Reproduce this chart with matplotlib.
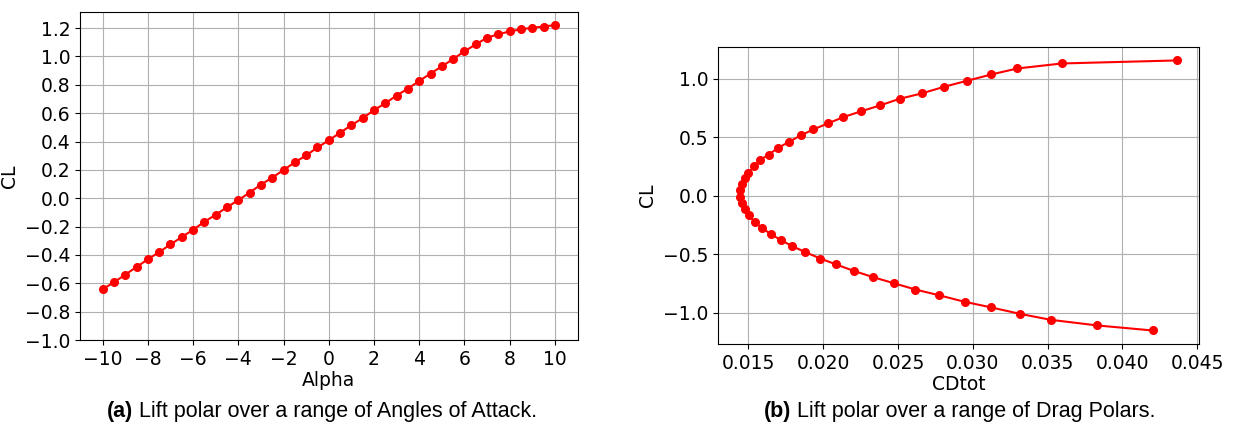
import numpy as np
import matplotlib
matplotlib.use('Agg')
import matplotlib.pyplot as plt
from matplotlib.text import Annotation

# Lift polar vs angle of attack
alpha = [-10, -9.5, -9, -8.5, -8, -7.5, -7, -6.5, -6, -5.5, -5, -4.5, -4, -3.5,
         -3, -2.5, -2, -1.5, -1, -0.5, 0, 0.5, 1, 1.5, 2, 2.5, 3, 3.5, 4, 4.5,
         5, 5.5, 6, 6.5, 7, 7.5, 8, 8.5, 9, 9.5, 10]
cl_alpha = [-0.642, -0.593, -0.539, -0.485, -0.431, -0.380, -0.326, -0.274, -0.223,
            -0.166, -0.117, -0.063, -0.014, 0.040, 0.096, 0.145, 0.199, 0.253,
            0.302, 0.358, 0.408, 0.462, 0.515, 0.565, 0.621, 0.670, 0.724, 0.773,
            0.827, 0.879, 0.930, 0.982, 1.036, 1.085, 1.132, 1.157, 1.176, 1.192,
            1.202, 1.211, 1.221]

# Drag polar (ordered from high CL to low CL)
cd_tot = [0.04366, 0.03595, 0.03297, 0.03124, 0.02961, 0.02809, 0.02659, 0.02511,
          0.02379, 0.02250, 0.02134, 0.02030, 0.01934, 0.01849, 0.01769, 0.01699,
          0.01637, 0.01578, 0.01539, 0.01500, 0.01477, 0.01456, 0.01443, 0.01443,
          0.01456, 0.01477, 0.01503, 0.01541, 0.01591, 0.01650, 0.01715, 0.01792,
          0.01880, 0.01981, 0.02087, 0.02203, 0.02333, 0.02470, 0.02617, 0.02772,
          0.02946, 0.03124, 0.03316, 0.03522, 0.03833, 0.04203]
cl_drag = [1.157, 1.131, 1.088, 1.037, 0.983, 0.932, 0.875, 0.829, 0.772, 0.721,
           0.672, 0.618, 0.567, 0.516, 0.459, 0.410, 0.353, 0.305, 0.251, 0.199,
           0.148, 0.097, 0.046, -0.006, -0.060, -0.114, -0.168, -0.222, -0.274,
           -0.328, -0.376, -0.430, -0.481, -0.536, -0.587, -0.641, -0.695, -0.746,
           -0.801, -0.849, -0.906, -0.954, -1.009, -1.060, -1.108, -1.151]

fs = 13.5
fig = plt.figure(figsize=(12.5, 4.25), dpi=100)

ax1 = fig.add_axes([0.064, 0.2, 0.398, 0.772])
ax1.plot(alpha, cl_alpha, color='red', marker='o', markersize=5.5, linewidth=1.5)
ax1.set_ylim(bottom=-1.0)
ax1.set_yticks(np.arange(-1.0, 1.21, 0.2))
ax1.set_xticks(np.arange(-10, 11, 2))
ax1.set_xlabel('Alpha', fontsize=fs, labelpad=2)
ax1.set_ylabel('CL', fontsize=fs)
ax1.tick_params(labelsize=fs)
ax1.grid(True, color='#b0b0b0', linewidth=0.8)

ax2 = fig.add_axes([0.5744, 0.1906, 0.3848, 0.699])
ax2.plot(cd_tot, cl_drag, color='red', marker='o', markersize=5.5, linewidth=1.5)
ax2.set_xlabel('CDtot', fontsize=fs, labelpad=2)
ax2.set_ylabel('CL', fontsize=fs)
ax2.tick_params(labelsize=fs)
ax2.grid(True, color='#b0b0b0', linewidth=0.8)

# captions below each chart: bold label then regular text
cap_fs = 15.5
t1 = fig.text(0.0856, 0.02, '(a)', fontweight='bold', family='Liberation Sans',
              fontsize=cap_fs, va='baseline')
fig.add_artist(Annotation(' Lift polar over a range of Angles of Attack.', xy=(1, 0),
                          xycoords=t1, va='bottom', family='Liberation Sans', fontsize=cap_fs))
t2 = fig.text(0.611, 0.02, '(b)', fontweight='bold', family='Liberation Sans',
              fontsize=cap_fs, va='baseline')
fig.add_artist(Annotation(' Lift polar over a range of Drag Polars.', xy=(1, 0),
                          xycoords=t2, va='bottom', family='Liberation Sans', fontsize=cap_fs))

fig.savefig('out.png', dpi=100)
